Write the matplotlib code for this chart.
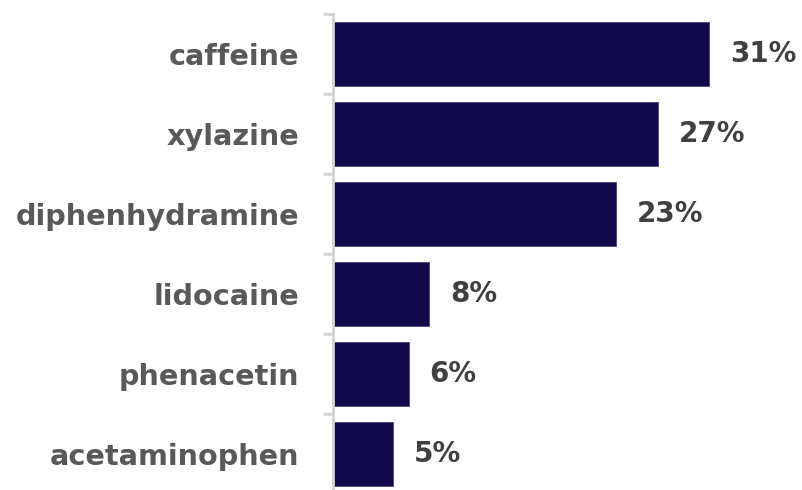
import matplotlib
matplotlib.use("Agg")
import matplotlib.pyplot as plt
import numpy as np

categories = ["caffeine", "xylazine", "diphenhydramine", "lidocaine", "phenacetin", "acetaminophen"]
values = [31.2, 27.0, 23.5, 8.0, 6.3, 5.0]
value_labels = ["31%", "27%", "23%", "8%", "6%", "5%"]

W, H = 803, 490
fig = plt.figure(figsize=(W / 100, H / 100), dpi=100)
left_px, top_px, bottom_px = 333, 14, 494
ax = fig.add_axes([left_px / W, (H - bottom_px) / H, 1 - left_px / W, (bottom_px - top_px) / H])

y = np.arange(len(categories))
ax.barh(y, values, height=0.81, color="#12094B", edgecolor="#3a3570", linewidth=0.5)
ax.set_ylim(len(categories) - 0.5, -0.5)
ax.set_xlim(0, (W - left_px) / 12.05)

for yi, v, lab in zip(y, values, value_labels):
    ax.annotate(lab, xy=(v, yi), xytext=(15, 0), textcoords="offset points",
                ha="left", va="center", fontsize=20, fontweight="bold", color="#404040")

ax.set_yticks(y)
ax.set_yticklabels(categories, fontsize=20.7, fontweight="bold", color="#595959")
ax.set_yticks(np.arange(-0.5, len(categories) + 0.5, 1), minor=True)
ax.tick_params(axis="y", which="major", length=0, pad=24.5)
ax.tick_params(axis="y", which="minor", length=7, width=2, color="#D3D3D3")
ax.set_xticks([])
for s in ["top", "right", "bottom"]:
    ax.spines[s].set_visible(False)
ax.spines["left"].set_color("#D3D3D3")
ax.spines["left"].set_linewidth(2)

fig.savefig("out.png", dpi=100)
